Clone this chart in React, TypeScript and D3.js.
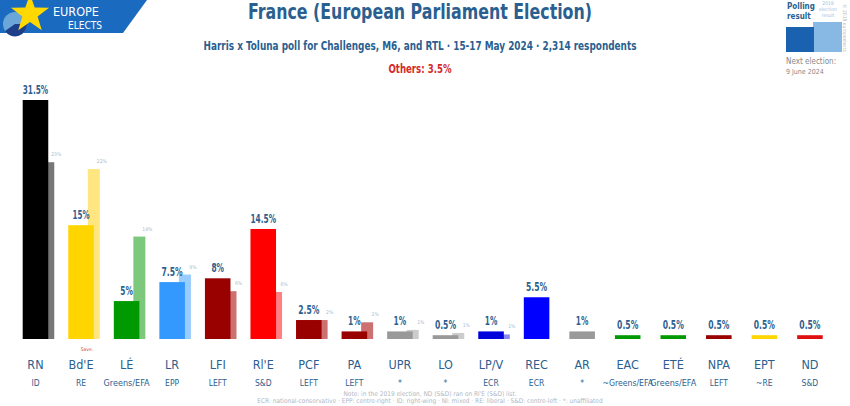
import * as d3 from "d3";

const parties = ["RN", "Bd'E", "LÉ", "LR", "LFI", "Rl'E", "PCF", "PA", "UPR", "LO", "LP/V", "REC", "AR", "EAC", "ETÉ", "NPA", "EPT", "ND"];
const groups = ["ID", "RE", "Greens/EFA", "EPP", "LEFT", "S&D", "LEFT", "LEFT", "*", "*", "ECR", "ECR", "*", "~Greens/EFA", "Greens/EFA", "LEFT", "~RE", "S&D"];
const poll = [31.5, 15, 5, 7.5, 8, 14.5, 2.5, 1, 1, 0.5, 1, 5.5, 1, 0.5, 0.5, 0.5, 0.5, 0.5];
const prev: (number | null)[] = [23.3, 22.4, 13.5, 8.5, 6.3, 6.2, 2.5, 2.2, 1.2, 0.8, 0.6, null, null, null, null, null, null, null];
const prevLabels = ["23%", "22%", "14%", "9%", "6%", "6%", "2%", "2%", "1%", "1%", "1%", "", "", "", "", "", "", ""];
const colors = ["#000000", "#ffd500", "#009a00", "#3399ff", "#990000", "#ff0000", "#990000", "#990000", "#999999", "#999999", "#0000dd", "#0000ff", "#999999", "#009a00", "#009a00", "#990000", "#ffd500", "#e01010"];
const prevColors = ["#777777", "#ffe680", "#7cc87c", "#99ccff", "#cc7070", "#ff8080", "#cc7070", "#cc7070", "#cccccc", "#cccccc", "#8888ee", "", "", "", "", "", "", ""];

const FONT = "'DejaVu Sans Condensed', 'DejaVu Sans', sans-serif";
const BLUE = "#2c5f8f";

export default function App() {
  const W = 850;
  const H = 406;
  const x = d3.scaleBand<string>().domain(parties).range([22.7, 822.7]).paddingInner(0.439).paddingOuter(0);
  const y = d3.scaleLinear().domain([0, 31.5]).range([339, 100]);
  const bw = x.bandwidth();
  const fmt = (v: number) => `${v}%`;
  // the source font is very narrow, so squeeze text to its widths
  const squeeze = (s: string, base: number, per: number) => ({ textLength: base + s.length * per, lengthAdjust: "spacingAndGlyphs" as const });

  return (
    <div style={{ position: "fixed", left: 0, top: 0 }}>
      <svg width={W} height={H} style={{ display: "block", background: "#fff" }} fontFamily={FONT}>
        {/* logo */}
        <path d="M0,0 H147 L123,33 H0 Z" fill="#1a6bbf" />
        <circle cx={15} cy={24} r={12} fill="#6aa7d8" />
        <path d="M15,24 L27,24 A12,12 0 0,1 5,31 Z" fill="#1d3f8a" />
        <path
          d={d3.range(10).map((i) => {
            const r = i % 2 === 0 ? 20 : 8;
            const a = -Math.PI / 2 + (i * Math.PI) / 5;
            return `${i ? "L" : "M"}${30 + r * Math.cos(a)},${14 + r * Math.sin(a)}`;
          }).join(" ") + "Z"}
          fill="#ffd800"
        />
        <text x={53} y={16} fill="#fff" fontSize={13} textLength={46} lengthAdjust="spacingAndGlyphs">EUROPE</text>
        <text x={68} y={29} fill="#fff" fontSize={11} textLength={34} lengthAdjust="spacingAndGlyphs">ELECTS</text>

        {/* titles */}
        <text x={420} y={19} textAnchor="middle" fill="#2a5f90" fontSize={21} fontWeight="bold" textLength={344} lengthAdjust="spacingAndGlyphs">France (European Parliament Election)</text>
        <text x={420} y={50} textAnchor="middle" fill="#2a5f90" fontSize={11.5} fontWeight="bold" textLength={433} lengthAdjust="spacingAndGlyphs">Harris x Toluna poll for Challenges, M6, and RTL · 15-17 May 2024 · 2,314 respondents</text>
        <text x={420} y={73} textAnchor="middle" fill="#d42a2a" fontSize={11.5} fontWeight="bold" textLength={63} lengthAdjust="spacingAndGlyphs">Others: 3.5%</text>

        {/* legend top right */}
        <text x={787} y={9} fill="#2a5f90" fontSize={8} fontWeight="bold">Polling</text>
        <text x={787} y={19} fill="#2a5f90" fontSize={8} fontWeight="bold">result</text>
        <text x={828} y={5} textAnchor="middle" fill="#9cc0e0" fontSize={5}>2019</text>
        <text x={828} y={11} textAnchor="middle" fill="#9cc0e0" fontSize={5}>election</text>
        <text x={828} y={17} textAnchor="middle" fill="#9cc0e0" fontSize={5}>result</text>
        <rect x={813} y={22} width={29} height={30} fill="#88b8e4" />
        <rect x={786} y={27} width={28} height={25} fill="#1a62b0" />
        <text x={786} y={64} fill="#888" fontSize={8}>Next election:</text>
        <text x={786} y={74} fill="#888" fontSize={7}>9 June 2024</text>
        <text transform="translate(843,4) rotate(90)" fill="#bbb" fontSize={5}>© 2019 europeelects</text>

        {/* previous result bars */}
        {parties.map((p, i) =>
          prev[i] == null ? null : (
            <g key={`prev-${p}`}>
              <rect x={(x(p) ?? 0) + bw - 6} y={y(prev[i] as number)} width={12} height={y(0) - y(prev[i] as number)} fill={prevColors[i]} />
              <text x={(x(p) ?? 0) + bw + 8} y={y(prev[i] as number) - 6} textAnchor="middle" fill="#a9bccd" fontSize={5}>{prevLabels[i]}</text>
            </g>
          )
        )}

        {/* poll bars */}
        {parties.map((p, i) => (
          <g key={`bar-${p}`}>
            <rect x={x(p)} y={y(poll[i])} width={bw} height={Math.max(y(0) - y(poll[i]), 0)} fill={colors[i]} />
            <text x={(x(p) ?? 0) + bw / 2} y={y(poll[i]) - 6} textAnchor="middle" fill={BLUE} fontSize={11.5} fontWeight="bold" {...squeeze(fmt(poll[i]), 4, 4.3)}>{fmt(poll[i])}</text>
          </g>
        ))}

        <text x={87} y={351} textAnchor="middle" fill="#d44" fontSize={5}>Save.</text>

        {/* category labels */}
        {parties.map((p, i) => (
          <g key={`lab-${p}`}>
            <text x={(x(p) ?? 0) + bw / 2} y={369} textAnchor="middle" fill={BLUE} fontSize={12.5}>{p}</text>
            <text x={(x(p) ?? 0) + bw / 2} y={386} textAnchor="middle" fill={BLUE} fontSize={8.5} {...(groups[i].length > 4 ? squeeze(groups[i], 0, 4.6) : {})}>{groups[i]}</text>
          </g>
        ))}

        {/* footnotes */}
        <text x={430} y={396} textAnchor="middle" fill="#b0b8c4" fontSize={6.5}>Note: in the 2019 election, ND (S&amp;D) ran on Rl'E (S&amp;D) list.</text>
        <text x={430} y={403} textAnchor="middle" fill="#b0b8c4" fontSize={6.5}>ECR: national-conservative · EPP: centre-right · ID: right-wing · NI: mixed · RE: liberal · S&amp;D: centre-left · *: unaffiliated</text>
      </svg>
    </div>
  );
}
